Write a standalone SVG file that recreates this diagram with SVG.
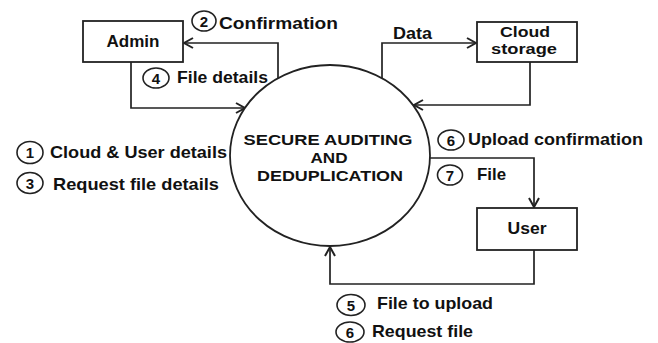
<svg xmlns="http://www.w3.org/2000/svg" width="658" height="343" viewBox="0 0 658 343">
<defs>
<style>
.box{fill:#fff;stroke:#222;stroke-width:1.8}
.proc{fill:#fff;stroke:#222;stroke-width:1.8}
.con{fill:none;stroke:#222;stroke-width:1.7}
.t{font-family:"Liberation Sans",Arial,sans-serif;font-weight:bold;font-size:17px;fill:#111}
.s{font-size:15.5px}
.c{font-size:14.5px}
.n{font-family:"Liberation Sans",Arial,sans-serif;font-weight:bold;font-size:15px;fill:#111;text-anchor:middle}
.nc{fill:#fff;stroke:#222;stroke-width:1.6}
.m{text-anchor:middle}
</style>
<marker id="ah" markerUnits="userSpaceOnUse" markerWidth="14" markerHeight="14" viewBox="-12 -7 14 14" refX="0" refY="0" orient="auto">
<path d="M-9,-5 L0,0 L-9,5" fill="none" stroke="#222" stroke-width="2"/>
</marker>
</defs>
<rect width="658" height="343" fill="#fff"/>

<g id="connectors">
<path class="con" d="M278,78 V43 H184" marker-end="url(#ah)"/>
<path class="con" d="M131,62 V108 H245" marker-end="url(#ah)"/>
<path class="con" d="M382,78 V43 H476" marker-end="url(#ah)"/>
<path class="con" d="M530,62 V105 H414" marker-end="url(#ah)"/>
<path class="con" d="M430,158 H534 V207" marker-end="url(#ah)"/>
<path class="con" d="M534,250 V284 H330 V247" marker-end="url(#ah)"/>
</g>

<g id="process">
<ellipse class="proc" cx="330" cy="155.5" rx="100" ry="90.5"/>
<text class="t s m" x="328" y="144.5" textLength="169" lengthAdjust="spacingAndGlyphs">SECURE AUDITING</text>
<text class="t s m" x="329" y="162.5" textLength="37" lengthAdjust="spacingAndGlyphs">AND</text>
<text class="t s m" x="330" y="180.5" textLength="146" lengthAdjust="spacingAndGlyphs">DEDUPLICATION</text>
</g>

<g id="admin">
<rect class="box" x="83" y="21" width="100" height="41"/>
<text class="t m" x="133" y="47" textLength="53" lengthAdjust="spacingAndGlyphs">Admin</text>
</g>

<g id="cloud">
<rect class="box" x="477" y="22" width="100" height="40"/>
<text class="t c m" x="525" y="37" textLength="50" lengthAdjust="spacingAndGlyphs">Cloud</text>
<text class="t c m" x="524" y="54" textLength="66" lengthAdjust="spacingAndGlyphs">storage</text>
</g>

<g id="user">
<rect class="box" x="477" y="208" width="100" height="42"/>
<text class="t m" x="527" y="234" textLength="39" lengthAdjust="spacingAndGlyphs">User</text>
</g>

<g id="labels">
<text class="t" x="393" y="39" textLength="39" lengthAdjust="spacingAndGlyphs">Data</text>

<ellipse class="nc" cx="204" cy="21" rx="12" ry="10"/>
<text class="n" x="204" y="26.5">2</text>
<text class="t" x="219" y="29" textLength="119" lengthAdjust="spacingAndGlyphs">Confirmation</text>

<ellipse class="nc" cx="156" cy="78" rx="13" ry="10"/>
<text class="n" x="156" y="83.5">4</text>
<text class="t" x="177" y="83" textLength="91" lengthAdjust="spacingAndGlyphs">File details</text>

<ellipse class="nc" cx="30" cy="152.5" rx="13" ry="11"/>
<text class="n" x="30" y="158">1</text>
<text class="t" x="50" y="158" textLength="177" lengthAdjust="spacingAndGlyphs">Cloud &amp; User details</text>

<ellipse class="nc" cx="30" cy="183" rx="13" ry="10.5"/>
<text class="n" x="30" y="188.5">3</text>
<text class="t" x="53" y="190" textLength="166" lengthAdjust="spacingAndGlyphs">Request file details</text>

<ellipse class="nc" cx="451" cy="140" rx="13" ry="10"/>
<text class="n" x="451" y="145.5">6</text>
<text class="t" x="468" y="145" textLength="175" lengthAdjust="spacingAndGlyphs">Upload confirmation</text>

<ellipse class="nc" cx="450" cy="175" rx="12.5" ry="10"/>
<text class="n" x="450" y="180.5">7</text>
<text class="t" x="477" y="180" textLength="29" lengthAdjust="spacingAndGlyphs">File</text>

<ellipse class="nc" cx="351" cy="305" rx="14" ry="10.5"/>
<text class="n" x="351" y="310.5">5</text>
<text class="t" x="377" y="309" textLength="116" lengthAdjust="spacingAndGlyphs">File to upload</text>

<ellipse class="nc" cx="350" cy="332" rx="14" ry="10"/>
<text class="n" x="350" y="337.5">6</text>
<text class="t" x="372" y="337" textLength="101" lengthAdjust="spacingAndGlyphs">Request file</text>
</g>
</svg>
